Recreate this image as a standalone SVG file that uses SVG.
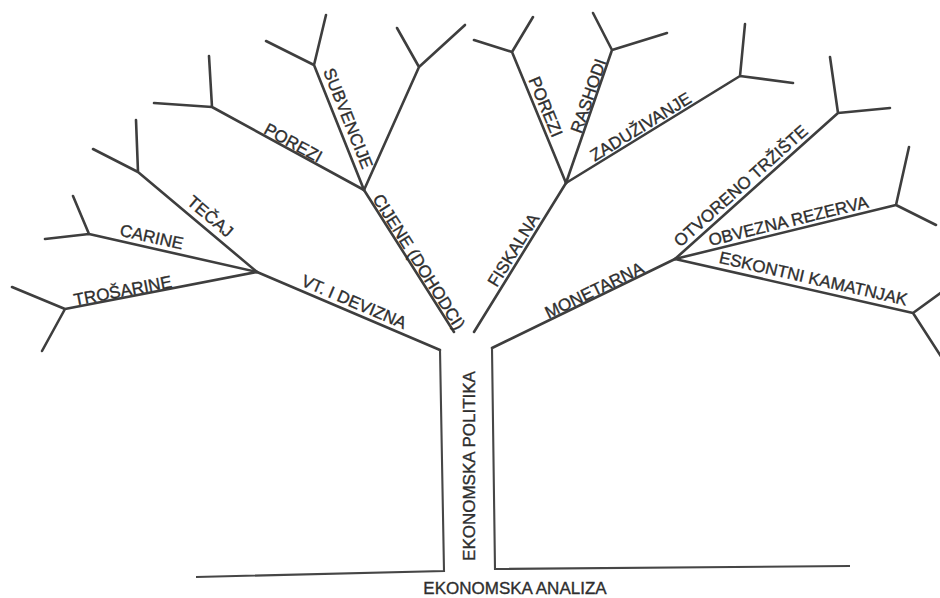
<svg xmlns="http://www.w3.org/2000/svg" width="940" height="598" viewBox="0 0 940 598">
<style>
.b{fill:none;stroke:#3e3e3e;stroke-width:2.6;stroke-linecap:round;stroke-linejoin:round}
.t{fill:none;stroke:#464646;stroke-width:2.1;stroke-linejoin:miter}
.l{font-family:"Liberation Sans",Arial,sans-serif;font-size:17px;fill:#2e2e2e;stroke:#2e2e2e;stroke-width:0.35;text-anchor:middle}
</style>
<rect width="940" height="598" fill="#ffffff"/>
<g id="connectors">
<path class="b" d="M364,190L212,107M212,107L209,56M212,107L154,103"/>
<path class="b" d="M364,190L314,65M314,65L326,15M314,65L266,41"/>
<path class="b" d="M364,190L419,67M419,67L397,28M419,67L465,25"/>
<path class="b" d="M364,190L454,332"/>
<path class="b" d="M257,272L138,172M138,172L136,120M138,172L93,149"/>
<path class="b" d="M257,272L89,234M89,234L73,196M89,234L45,239"/>
<path class="b" d="M257,272L65,309M65,309L12,287M65,309L42,351"/>
<path class="b" d="M257,272L440,350"/>
<path class="t" d="M440,350L444,571L196,577"/>
<path class="b" d="M474,332L566,183"/>
<path class="b" d="M566,183L512,52M512,52L533,17M512,52L474,40"/>
<path class="b" d="M566,183L612,50M612,50L593,13M612,50L667,33"/>
<path class="b" d="M566,183L740,76M740,76L745,24M740,76L793,83"/>
<path class="b" d="M675,259L492,348"/>
<path class="t" d="M492,348L495,569L850,566"/>
<path class="b" d="M675,259L838,113M838,113L830,57M838,113L890,108"/>
<path class="b" d="M675,259L896,205M896,205L909,147M896,205L936,225"/>
<path class="b" d="M675,259L913,313M913,313L942,292M913,313L942,358"/>
</g>
<g id="porezi-l"><text class="l" transform="translate(293.3,142.7) rotate(28.6)" y="6">POREZI</text></g>
<g id="subvencije"><text class="l" transform="translate(348.3,118.3) rotate(68.2)" y="6">SUBVENCIJE</text></g>
<g id="cijene"><text class="l" transform="translate(419,261.7) rotate(57.6)" y="6">CIJENE (DOHODCI)</text></g>
<g id="tecaj"><text class="l" transform="translate(211,215.5) rotate(40)" y="7">TEČAJ</text></g>
<g id="carine"><text class="l" transform="translate(151.7,236.7) rotate(12.7)" y="6">CARINE</text></g>
<g id="trosarine"><text class="l" transform="translate(122.5,289.5) rotate(-10.9)" y="7">TROŠARINE</text></g>
<g id="vt-devizna"><text class="l" transform="translate(354.2,301.7) rotate(23.1)" y="6">VT. I DEVIZNA</text></g>
<g id="fiskalna"><text class="l" transform="translate(513.3,250) rotate(-58.3)" y="6">FISKALNA</text></g>
<g id="porezi-r"><text class="l" transform="translate(545.8,106.7) rotate(67.6)" y="6">POREZI</text></g>
<g id="rashodi"><text class="l" transform="translate(588.3,95.8) rotate(-70.9)" y="6">RASHODI</text></g>
<g id="zaduzivanje"><text class="l" transform="translate(640,125.8) rotate(-31.6)" y="7">ZADUŽIVANJE</text></g>
<g id="monetarna"><text class="l" transform="translate(594.2,290) rotate(-25.9)" y="6">MONETARNA</text></g>
<g id="otvoreno"><text class="l" transform="translate(740,185) rotate(-41.8)" y="7">OTVORENO TRŽIŠTE</text></g>
<g id="obvezna"><text class="l" transform="translate(788.3,220.8) rotate(-13.7)" y="6">OBVEZNA REZERVA</text></g>
<g id="eskontni"><text class="l" transform="translate(813.3,278.3) rotate(12.8)" y="6">ESKONTNI KAMATNJAK</text></g>
<g id="ekonomska-politika"><text class="l" transform="translate(468.5,466) rotate(-90)" y="6">EKONOMSKA POLITIKA</text></g>
<g id="ekonomska-analiza"><text class="l" x="515" y="594">EKONOMSKA ANALIZA</text></g>
</svg>
